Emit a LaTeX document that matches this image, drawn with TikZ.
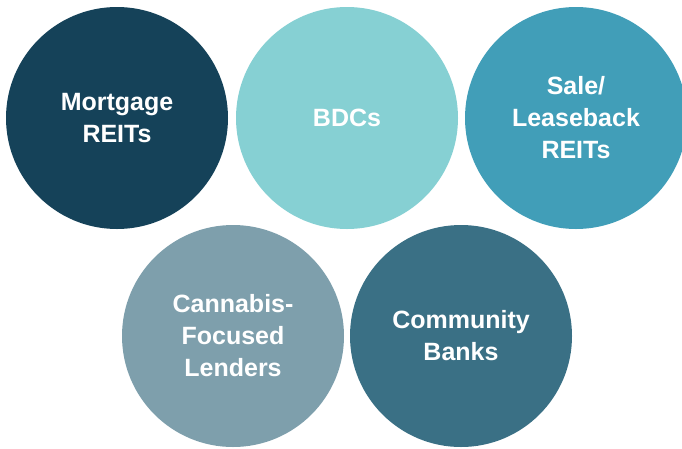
\documentclass[tikz,border=0pt]{standalone}
\usepackage{fontspec}
\setmainfont{Liberation Sans}
\definecolor{navyC}{RGB}{21,66,89}
\definecolor{aquaC}{RGB}{134,208,211}
\definecolor{tealC}{RGB}{65,158,184}
\definecolor{slateC}{RGB}{126,159,172}
\definecolor{steelC}{RGB}{58,112,133}
\begin{document}
\begin{tikzpicture}[x=1pt, y=-1pt,
        lenderCircle/.style={circle, minimum size=222pt, inner sep=0pt, align=center,
            text=white, font=\bfseries\fontsize{25}{32}\selectfont}]
            \useasboundingbox (0, 0) rectangle (682, 448);
            \clip (0, 0) rectangle (682, 448);
            % top row
            \node[lenderCircle, fill=navyC] (mortgage) at (117, 118) {Mortgage\\REITs};
            \node[lenderCircle, fill=aquaC] (bdcs) at (347, 118) {BDCs};
            \node[lenderCircle, fill=tealC] (leaseback) at (576, 118) {Sale/\\Leaseback\\REITs};
            % bottom row
            \node[lenderCircle, fill=slateC] (cannabis) at (233, 336) {Cannabis-\\Focused\\Lenders};
            \node[lenderCircle, fill=steelC] (community) at (461, 336) {Community\\Banks};
        \end{tikzpicture}
\end{document}
